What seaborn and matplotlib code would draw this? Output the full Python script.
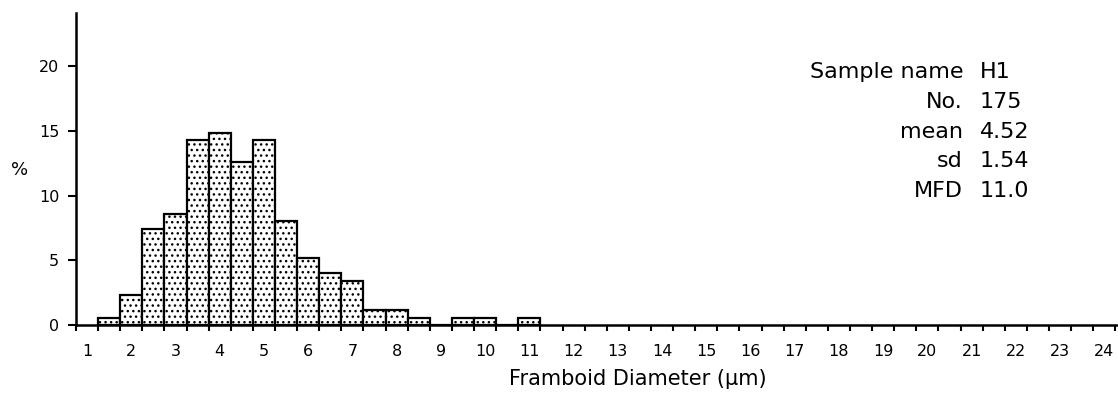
import numpy as np
import pandas as pd
import matplotlib
matplotlib.use("Agg")
import matplotlib.pyplot as plt
import seaborn as sns

# ---- data ----
bin_centers = [1.5, 2.0, 2.5, 3.0, 3.5, 4.0, 4.5, 5.0, 5.5, 6.0, 6.5, 7.0,
               7.5, 8.0, 8.5, 9.0, 9.5, 10.0, 10.5, 11.0]
percent = [0.57, 2.29, 7.43, 8.57, 14.29, 14.86, 12.57, 14.29, 8.00, 5.14,
           4.00, 3.43, 1.14, 1.14, 0.57, 0.0, 0.57, 0.57, 0.0, 0.57]
tick_labels = [str(i) for i in range(1, 25)]
y_ticks = [0, 5, 10, 15, 20]
info_labels = ["Sample name", "No.", "mean", "sd", "MFD"]
info_values = ["H1", "175", "4.52", "1.54", "11.0"]
x_title = "Framboid Diameter (\u00b5m)"
y_title = "%"

sns.set_style("ticks")
plt.rcParams["font.family"] = ["DejaVu Sans"]
plt.rcParams["hatch.linewidth"] = 1.0
for k in ["text.color", "axes.labelcolor", "xtick.color", "ytick.color",
          "axes.edgecolor"]:
    plt.rcParams[k] = "black"

W, H = 1118, 400
fig = plt.figure(figsize=(W / 100, H / 100), dpi=100)
ax = fig.add_axes([76 / W, 75 / H, 1042 / W, 312 / H])

df = pd.DataFrame({"diameter": bin_centers, "pct": percent})
bin_w = 0.5
sns.histplot(data=df, x="diameter", weights="pct", binwidth=bin_w,
             binrange=(bin_centers[0] - bin_w / 2, bin_centers[-1] + bin_w / 2),
             ax=ax, color="white", edgecolor="black", linewidth=1.6, alpha=1.0)
for p in ax.patches:
    p.set_hatch("...")
    p.set_facecolor("white")
    p.set_edgecolor("black")

ax.set_xlim(0.75, 24.31)
ax.set_ylim(0, 24.1)

ax.set_xticks(range(1, 25))
ax.set_xticklabels(tick_labels)
ax.set_xticks(np.arange(0.75, 24.3, 0.5), minor=True)
ax.tick_params(axis="x", which="major", length=0, pad=14, labelsize=11.5,
               labelcolor="black")
ax.tick_params(axis="x", which="minor", length=4, width=1.5, direction="out",
               color="black")
ax.set_yticks(y_ticks)
ax.tick_params(axis="y", which="major", length=6, width=1.5, direction="out",
               pad=6, labelsize=11.5, color="black", labelcolor="black")
ax.tick_params(axis="y", which="minor", length=0)

for s in ["top", "right"]:
    ax.spines[s].set_visible(False)
for s in ["left", "bottom"]:
    ax.spines[s].set_linewidth(1.8)
    ax.spines[s].set_color("black")

ax.set_xlabel(x_title, fontsize=15, color="black")
ax.xaxis.set_label_coords((638 - 76) / 1042, (325 - 385) / 312)
ax.xaxis.label.set_va("baseline")
ax.set_ylabel(y_title, rotation=0, fontsize=13, color="black")
ax.yaxis.set_label_coords((20 - 76) / 1042, (325 - 170) / 312)
ax.yaxis.label.set_va("center")
ax.yaxis.label.set_ha("center")

baselines = [78, 108, 137.5, 167, 197]
for lab, val, yb in zip(info_labels, info_values, baselines):
    fig.text(963 / W, 1 - yb / H, lab, ha="right", va="baseline", fontsize=16,
             color="black")
    fig.text(980 / W, 1 - yb / H, val, ha="left", va="baseline", fontsize=16,
             color="black")

fig.savefig("out.png", dpi=100)
